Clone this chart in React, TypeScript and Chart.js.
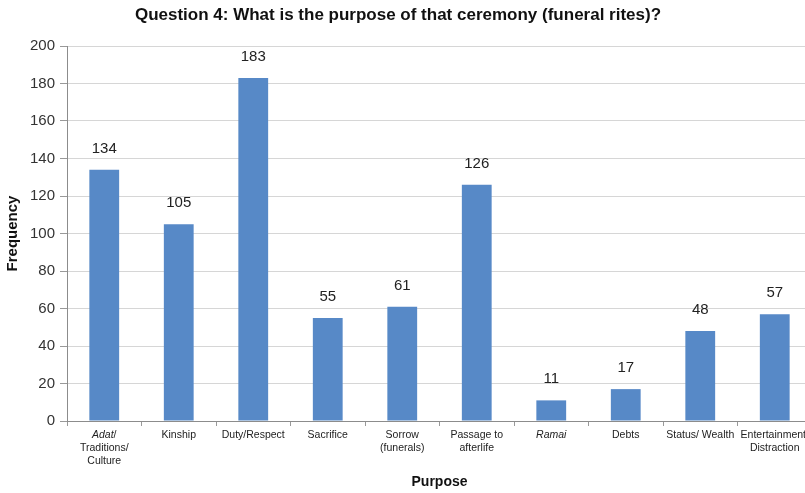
import React, { useEffect, useRef } from "react";
import { Chart, registerables } from "chart.js";

Chart.register(...registerables);

const titleText = "Question 4: What is the purpose of that ceremony (funeral rites)?";
const xAxisTitle = "Purpose";
const yAxisTitle = "Frequency";

const categoryLines: string[][] = [
  ["Adat/", "Traditions/", "Culture"],
  ["Kinship"],
  ["Duty/Respect"],
  ["Sacrifice"],
  ["Sorrow", "(funerals)"],
  ["Passage to", "afterlife"],
  ["Ramai"],
  ["Debts"],
  ["Status/ Wealth"],
  ["Entertainment/", "Distraction"],
];
const italicWords = ["Adat", "Ramai"];
const frequencies = [134, 105, 183, 55, 61, 126, 11, 17, 48, 57];
const yMin = 0;
const yMax = 200;
const yStep = 20;

const FONT = "'Liberation Sans', Arial, Helvetica, sans-serif";
const BAR_COLOR = "#5789c7";

const overlayPlugin = {
  id: "overlay",
  afterDraw(chart: any) {
    const ctx = chart.ctx;
    const xs = chart.scales.x;
    ctx.save();
    // title
    ctx.fillStyle = "#111";
    ctx.font = `bold 17px ${FONT}`;
    ctx.textAlign = "center";
    ctx.textBaseline = "middle";
    ctx.fillText(titleText, 398, 15);

    // value labels
    ctx.font = `15px ${FONT}`;
    ctx.fillStyle = "#222";
    ctx.textBaseline = "alphabetic";
    const meta = chart.getDatasetMeta(0);
    meta.data.forEach((bar: any, i: number) => {
      ctx.fillText(String(frequencies[i]), bar.x, bar.y - 17);
    });

    // category labels with italic segments
    const size = 10.5;
    const lineH = 13;
    categoryLines.forEach((lines, i) => {
      const cx = xs.getPixelForValue(i);
      lines.forEach((line, li) => {
        const y = xs.top + 17 + li * lineH;
        const segs: { t: string; it: boolean }[] = [];
        let rest = line;
        while (rest.length) {
          let found = -1;
          let word = "";
          for (const w of italicWords) {
            const k = rest.indexOf(w);
            if (k >= 0 && (found < 0 || k < found)) {
              found = k;
              word = w;
            }
          }
          if (found < 0) {
            segs.push({ t: rest, it: false });
            rest = "";
          } else {
            if (found > 0) segs.push({ t: rest.slice(0, found), it: false });
            segs.push({ t: word, it: true });
            rest = rest.slice(found + word.length);
          }
        }
        let total = 0;
        const widths = segs.map((s) => {
          ctx.font = `${s.it ? "italic " : ""}${size}px ${FONT}`;
          const w = ctx.measureText(s.t).width;
          total += w;
          return w;
        });
        let x = cx - total / 2;
        ctx.textAlign = "left";
        ctx.fillStyle = "#222";
        segs.forEach((s, k) => {
          ctx.font = `${s.it ? "italic " : ""}${size}px ${FONT}`;
          ctx.fillText(s.t, x, y);
          x += widths[k];
        });
      });
    });
    ctx.restore();
  },
};

export default function App() {
  const ref = useRef<HTMLCanvasElement | null>(null);
  useEffect(() => {
    if (!ref.current) return;
    const chart = new Chart(ref.current, {
      type: "bar",
      data: {
        labels: categoryLines.map((l) => l.join(" ")),
        datasets: [
          {
            data: frequencies,
            backgroundColor: BAR_COLOR,
            borderWidth: 0,
            barPercentage: 0.4,
            categoryPercentage: 1,
          },
        ],
      },
      options: {
        responsive: false,
        animation: false,
        layout: { padding: { top: 46, right: 0, left: 0, bottom: 0 } },
        plugins: {
          legend: { display: false },
          title: { display: false },
          tooltip: { enabled: false },
        },
        scales: {
          x: {
            offset: true,
            grid: {
              display: true,
              drawOnChartArea: false,
              drawTicks: true,
              tickLength: 5,
              offset: true,
              tickColor: "#999",
            },
            border: { color: "#8c8c8c" },
            ticks: { display: false },
            title: {
              display: true,
              text: xAxisTitle,
              color: "#111",
              font: { family: FONT, size: 14, weight: "bold" },
              padding: { top: 0, bottom: 2 },
            },
            afterFit: (axis: any) => {
              axis.height = 72;
            },
          },
          y: {
            min: yMin,
            max: yMax,
            ticks: {
              stepSize: yStep,
              color: "#333",
              font: { family: FONT, size: 15 },
              padding: 5,
            },
            grid: {
              color: "#d6d6d6",
              tickColor: "#999",
              tickLength: 7,
            },
            border: { color: "#8c8c8c" },
            title: {
              display: true,
              text: yAxisTitle,
              color: "#111",
              font: { family: FONT, size: 15, weight: "bold" },
              padding: { top: 4, bottom: 0 },
            },
            afterFit: (axis: any) => {
              axis.width = 67;
            },
          },
        },
      },
      plugins: [overlayPlugin],
    } as any);
    return () => chart.destroy();
  }, []);
  return (
    <div
      style={{
        position: "fixed",
        left: 0,
        top: 0,
        width: 805,
        height: 493,
        overflow: "hidden",
        background: "#fff",
      }}
    >
      <canvas ref={ref} width={812} height={493} style={{ display: "block" }} />
    </div>
  );
}
